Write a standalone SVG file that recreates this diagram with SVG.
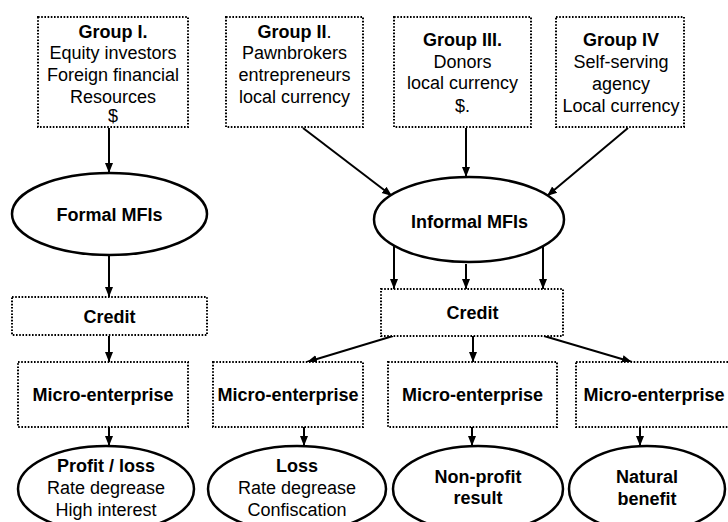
<svg xmlns="http://www.w3.org/2000/svg" width="728" height="522" viewBox="0 0 728 522">
<defs>
<marker id="ah" markerUnits="userSpaceOnUse" markerWidth="10" markerHeight="10" viewBox="0 0 10 10" refX="10" refY="5" orient="auto">
<path d="M0,1 L10,5 L0,9 Z" fill="#000"/>
</marker>
</defs>
<style>
.box{fill:#fff;stroke:#000;stroke-width:2;stroke-dasharray:1.6 1.6}
.ell{fill:#fff;stroke:#000;stroke-width:2.5}
text{font-family:"Liberation Sans",Arial,sans-serif;font-size:18px;fill:#000;text-anchor:middle}
.b{font-weight:bold}
.arr{stroke:#000;stroke-width:2;fill:none;marker-end:url(#ah)}
</style>
<rect width="728" height="522" fill="#fff"/>
<g id="connectors">
<line class="arr" x1="109" y1="128" x2="109" y2="173"/>
<line class="arr" x1="109" y1="256" x2="109" y2="297"/>
<line class="arr" x1="109" y1="336" x2="109" y2="362"/>
<line class="arr" x1="109" y1="427" x2="109" y2="446"/>
<line class="arr" x1="303" y1="128" x2="392" y2="196"/>
<line class="arr" x1="466" y1="128" x2="466" y2="177"/>
<line class="arr" x1="628" y1="128" x2="547" y2="196"/>
<line class="arr" x1="394" y1="246" x2="394" y2="289"/>
<line class="arr" x1="466" y1="264" x2="466" y2="289"/>
<line class="arr" x1="543" y1="246" x2="543" y2="289"/>
<line class="arr" x1="393" y1="336" x2="307" y2="362"/>
<line class="arr" x1="473" y1="336" x2="473" y2="362"/>
<line class="arr" x1="544" y1="336" x2="632" y2="362"/>
<line class="arr" x1="304" y1="427" x2="304" y2="446"/>
<line class="arr" x1="472" y1="427" x2="472" y2="446"/>
<line class="arr" x1="640" y1="427" x2="640" y2="446"/>
</g>
<g id="group1">
<rect class="box" x="38" y="17" width="150" height="110"/>
<text class="b" x="113" y="38">Group I.</text>
<text x="113" y="59">Equity investors</text>
<text x="113" y="81">Foreign financial</text>
<text x="113" y="103">Resources</text>
<text x="113" y="122">$</text>
</g>
<g id="group2">
<rect class="box" x="226" y="17" width="137" height="110"/>
<text x="294.5" y="38"><tspan class="b">Group II</tspan>.</text>
<text x="294.5" y="59">Pawnbrokers</text>
<text x="294.5" y="81">entrepreneurs</text>
<text x="294.5" y="103">local currency</text>
</g>
<g id="group3">
<rect class="box" x="394" y="17" width="137" height="110"/>
<text class="b" x="462.5" y="46">Group III.</text>
<text x="462.5" y="68">Donors</text>
<text x="462.5" y="89">local currency</text>
<text x="462.5" y="112">$.</text>
</g>
<g id="group4">
<rect class="box" x="556" y="17" width="128" height="110"/>
<text class="b" x="621" y="46">Group IV</text>
<text x="621" y="68">Self-serving</text>
<text x="621" y="90">agency</text>
<text x="621" y="112">Local currency</text>
</g>
<g id="formal">
<ellipse class="ell" cx="109.5" cy="214" rx="97.5" ry="41"/>
<text class="b" x="109.5" y="221">Formal MFIs</text>
</g>
<g id="informal">
<ellipse class="ell" cx="469" cy="219.5" rx="95" ry="42.5"/>
<text class="b" x="469.5" y="228">Informal MFIs</text>
</g>
<g id="credit1">
<rect class="box" x="12" y="297" width="195" height="38"/>
<text class="b" x="109.5" y="323">Credit</text>
</g>
<g id="credit2">
<rect class="box" x="381" y="289" width="182" height="47"/>
<text class="b" x="472.5" y="319">Credit</text>
</g>
<g id="micro1">
<rect class="box" x="18" y="362" width="170" height="65"/>
<text class="b" x="103" y="401">Micro-enterprise</text>
</g>
<g id="micro2">
<rect class="box" x="213" y="362" width="150" height="65"/>
<text class="b" x="288" y="401">Micro-enterprise</text>
</g>
<g id="micro3">
<rect class="box" x="388" y="362" width="169" height="65"/>
<text class="b" x="472.5" y="401">Micro-enterprise</text>
</g>
<g id="micro4">
<rect class="box" x="576" y="362" width="160" height="65"/>
<text class="b" x="654" y="401">Micro-enterprise</text>
</g>
<g id="result1">
<ellipse class="ell" cx="106" cy="489" rx="88" ry="43"/>
<text class="b" x="106" y="472">Profit / loss</text>
<text x="106" y="494">Rate degrease</text>
<text x="106" y="516">High interest</text>
</g>
<g id="result2">
<ellipse class="ell" cx="297" cy="489" rx="89" ry="43"/>
<text class="b" x="297" y="472">Loss</text>
<text x="297" y="494">Rate degrease</text>
<text x="297" y="516">Confiscation</text>
</g>
<g id="result3">
<ellipse class="ell" cx="478" cy="489" rx="85" ry="43"/>
<text class="b" x="478" y="483">Non-profit</text>
<text class="b" x="478" y="504">result</text>
</g>
<g id="result4">
<ellipse class="ell" cx="647" cy="489" rx="78" ry="43"/>
<text class="b" x="647" y="483">Natural</text>
<text class="b" x="647" y="505">benefit</text>
</g>
</svg>
